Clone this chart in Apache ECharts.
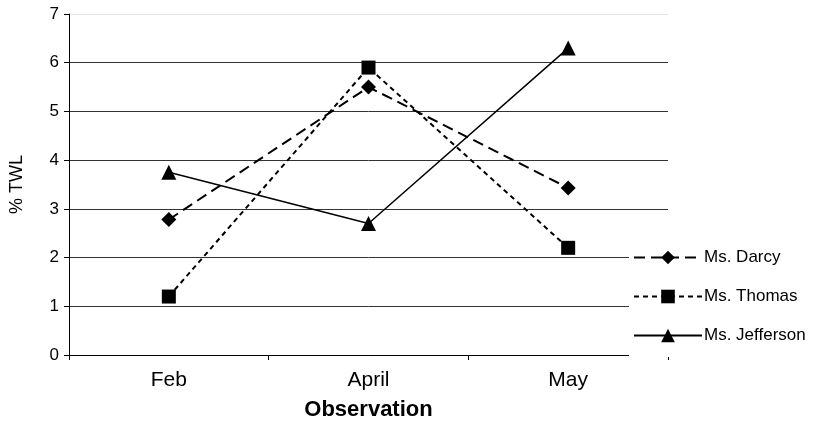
<!DOCTYPE html>
<html>
<head>
<meta charset="utf-8">
<script src="https://cdn.jsdelivr.net/npm/echarts@6/dist/echarts.min.js"></script>
<style>
  html, body { margin: 0; padding: 0; background: #fff; }
  #chart { width: 817px; height: 430px; }
</style>
</head>
<body>
<div id="chart"></div>
<script>
// Observation months along the x axis
const months = ['Feb', 'April', 'May'];

// % TWL per teacher
const darcy = [2.78, 5.5, 3.43];
const thomas = [1.2, 5.9, 2.2];
const jefferson = [3.75, 2.7, 6.3];

const seriesNames = ['Ms. Darcy', 'Ms. Thomas', 'Ms. Jefferson'];

const FONT = '"Liberation Sans", Arial, sans-serif';

const chart = echarts.init(document.getElementById('chart'), null, { renderer: 'canvas' });

function lineSeries(name, data, symbol, size, lineType, width) {
  return {
    name: name,
    type: 'line',
    data: data,
    symbol: symbol,
    symbolSize: size,
    showSymbol: true,
    animation: false,
    itemStyle: { color: '#000' },
    lineStyle: { color: '#000', width: width, type: lineType },
    z: 3
  };
}

chart.setOption({
  animation: false,
  backgroundColor: '#fff',
  grid: { left: 66, right: 149, top: 14, bottom: 75, containLabel: false },
  xAxis: {
    type: 'category',
    data: months,
    boundaryGap: true,
    name: 'Observation',
    nameLocation: 'middle',
    nameGap: 44,
    nameTextStyle: { fontFamily: FONT, fontSize: 22, fontWeight: 'bold', color: '#000' },
    axisLine: { show: true, lineStyle: { color: '#000', width: 1 } },
    axisTick: { show: true, alignWithLabel: false, inside: false, length: 5, lineStyle: { color: '#000' } },
    axisLabel: { fontFamily: FONT, fontSize: 21, color: '#000', margin: 15 },
    splitLine: { show: false }
  },
  yAxis: {
    type: 'value',
    min: 0,
    max: 7,
    interval: 1,
    name: '% TWL',
    nameLocation: 'middle',
    nameGap: 43,
    nameRotate: 90,
    nameTextStyle: { fontFamily: FONT, fontSize: 18, color: '#000' },
    axisLine: { show: true, lineStyle: { color: '#000', width: 1 } },
    axisTick: { show: true, inside: false, length: 5, lineStyle: { color: '#000' } },
    axisLabel: { fontFamily: FONT, fontSize: 17, color: '#000', margin: 10 },
    splitLine: {
      show: true,
      lineStyle: {
        color: ['#000', '#333', '#333', '#333', '#333', '#333', '#333', '#e6e6e6'],
        width: 1
      }
    }
  },
  legend: {
    orient: 'vertical',
    left: 629,
    top: 240,
    data: seriesNames,
    backgroundColor: '#fff',
    padding: [9, 20, 13, 4],
    itemWidth: 68,
    itemHeight: 17,
    itemGap: 22,
    textStyle: { fontFamily: FONT, fontSize: 17, color: '#000', padding: [0, 0, 0, -3] },
    z: 10
  },
  series: [
    lineSeries(seriesNames[0], darcy, 'diamond', 15, [11, 6], 2),
    lineSeries(seriesNames[1], thomas, 'rect', 14, [5, 4], 2),
    lineSeries(seriesNames[2], jefferson, 'triangle', 15, 'solid', 1.5)
  ]
});
</script>
</body>
</html>
